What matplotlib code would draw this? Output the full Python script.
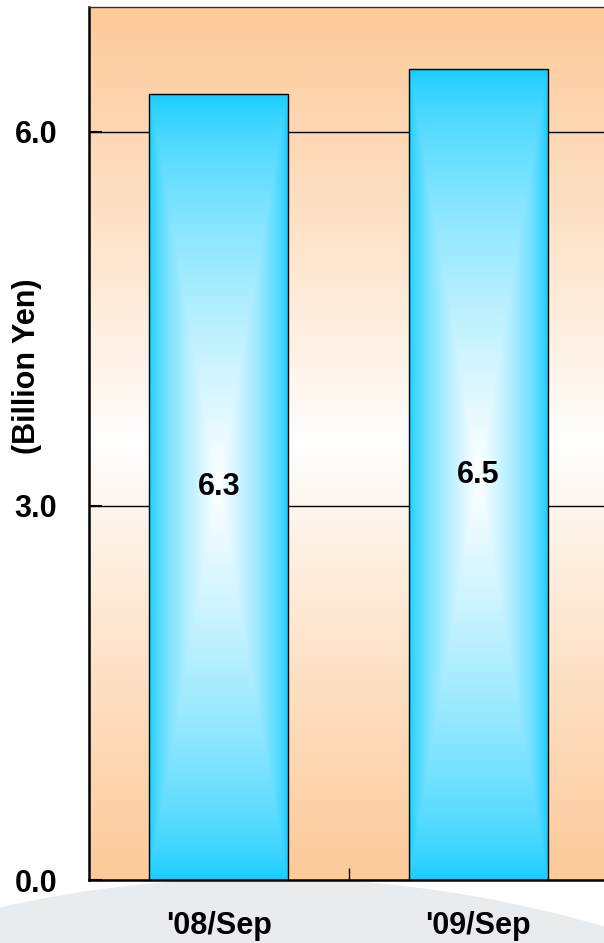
import numpy as np
import matplotlib
matplotlib.use("Agg")
import matplotlib.pyplot as plt
from matplotlib.patches import Ellipse

# data
categories = ["'08/Sep", "'09/Sep"]
values = [6.3, 6.5]
yticks = [0.0, 3.0, 6.0]

plt.rcParams['font.family'] = ['Liberation Sans', 'DejaVu Sans']
plt.rcParams['font.weight'] = 'bold'

fig = plt.figure(figsize=(6.04, 9.43), dpi=100)
fig.patch.set_facecolor('white')

# light grey swoosh behind the bottom of the chart
swoosh = Ellipse((265/604, -1145/943), 2*1210/604, 2*1210/943,
                 transform=fig.transFigure, facecolor='#e9ecef',
                 edgecolor='none', zorder=-5)
fig.add_artist(swoosh)

ax = fig.add_axes([89/604, 63/943, 519/604, 873/943])
x = np.arange(len(categories))
w = 0.535

# background: orange at top and bottom, white in the middle
orange = np.array([253, 202, 153]) / 255
t = np.linspace(-1, 1, 400)
k = np.abs(t)[:, None] ** 0.9
bg = (1 - k) * np.ones(3) + k * orange
ax.imshow(bg[:, None, :], extent=[-0.5, 1.5, 0, 7], aspect='auto',
          origin='lower', zorder=0, interpolation='bilinear')

# grid lines
for yv in yticks[1:]:
    ax.axhline(yv, color='black', lw=1.0, zorder=1)

# bars: rectangular path gradient, white core, cyan rim
cyan = np.array([18, 204, 255]) / 255
uu, vv = np.meshgrid(np.linspace(-1, 1, 140), np.linspace(-1, 1, 600))
f = np.clip(1 - np.maximum(np.abs(uu), np.abs(vv)), 0, 1) ** 0.65
img = f[..., None] * np.ones(3) + (1 - f[..., None]) * cyan
bars = ax.bar(x, values, width=w, facecolor='none', edgecolor='black',
              linewidth=1.0, zorder=3)
for xi, v in zip(x, values):
    ax.imshow(img, extent=[xi - w/2, xi + w/2, 0, v], aspect='auto',
              origin='lower', zorder=2, interpolation='bilinear')
    ax.text(xi, v / 2, f"{v:.1f}", ha='center', va='center',
            fontsize=22, fontweight='bold', zorder=4)

ax.set_xlim(-0.5, 1.5)
ax.set_ylim(0, 7)

ax.set_yticks(yticks)
ax.set_yticklabels([f"{v:.1f}" for v in yticks])
ax.set_xticks(x)
ax.set_xticklabels(categories)
ax.set_xticks([0.5], minor=True)
ax.tick_params(axis='x', which='major', length=0, pad=22, labelsize=22)
ax.tick_params(axis='x', which='minor', direction='in', length=9, width=1)
ax.tick_params(axis='y', direction='in', length=9, width=1.5, pad=23,
               labelsize=22)

for side in ['left', 'bottom']:
    ax.spines[side].set_linewidth(1.8)
ax.spines['top'].set_linewidth(1.0)
ax.spines['top'].set_color('#333333')
ax.spines['right'].set_visible(False)

ax.set_ylabel('(Billion Yen)', fontsize=22, fontweight='bold')
ax.yaxis.set_label_coords(-0.09, 0.589)

fig.savefig('out.png', dpi=100)
